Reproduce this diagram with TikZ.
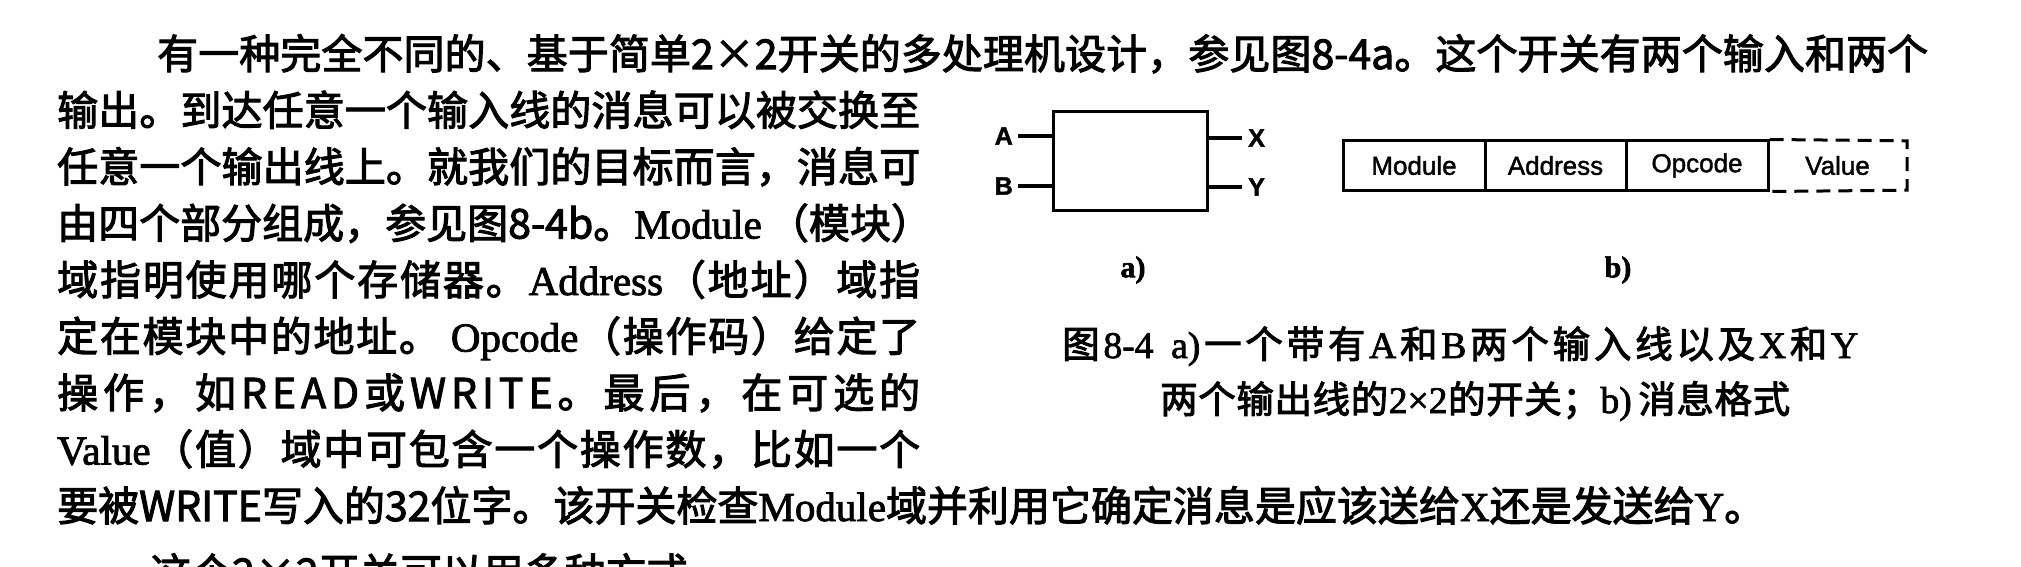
\documentclass[tikz,border=0pt]{standalone}
\usepackage{fontspec}
\setmainfont{Noto Sans CJK SC}[FakeBold=2.5]
\newfontfamily\lser{Liberation Serif}[FakeBold=2]
\newfontfamily\lsans{Liberation Sans}[FakeBold=1.5]
\newcommand\ser[1]{{\lser #1}}
\ExplSyntaxOn
\NewDocumentCommand\spreadline{mm}{\hbox to #1{\tl_map_inline:nn{#2}{##1\hfil}\unskip}}
\ExplSyntaxOff
\tikzset{
  body/.style={anchor=base west, inner sep=0pt, font=\fontsize{41}{41}\selectfont},
  capline/.style={anchor=base west, inner sep=0pt, font=\fontsize{37.5}{37.5}\selectfont},
  wire/.style={line width=3.5pt},
  swbox/.style={draw, line width=3pt, minimum width=154pt, minimum height=98pt, inner sep=0pt},
  pin/.style={inner sep=0pt, font=\lsans\bfseries\fontsize{25}{25}\selectfont},
  field/.style={minimum height=49pt, inner sep=0pt, font=\lsans\fontsize{26}{26}\selectfont},
  solidfield/.style={field, draw, line width=3pt},
  dashfield/.style={line width=3pt, dash pattern=on 14pt off 8pt},
  sublabel/.style={inner sep=0pt, font=\lser\bfseries\fontsize{30}{30}\selectfont},
}
\begin{document}
\begin{tikzpicture}[x=1pt,y=-1pt]
\fill[white] (0,0) rectangle (2021,567);
\useasboundingbox (0,0) rectangle (2021,567);
\begin{scope}
\clip (0,0) rectangle (2021,567);
% body text
\node[body] (l1) at (157,69) {\spreadline{1771pt}{有一种完全不同的、基于简单{2×2}开关的多处理机设计，参见图{8-4a}。这个开关有两个输入和两个}};
\node[body] (l2) at (57,125.5) {\spreadline{863pt}{输出。到达任意一个输入线的消息可以被交换至}};
\node[body] (l3) at (57,182) {\spreadline{863pt}{任意一个输出线上。就我们的目标而言，消息可}};
\node[body] (l4) at (57,238.5) {\spreadline{863pt}{由四个部分组成，参见图{8-4b}。{\ser{Module}\ }（模块）}};
\node[body] (l5) at (57,295) {\spreadline{863pt}{域指明使用哪个存储器。{\ser{Address}}（地址）域指}};
\node[body] (l6) at (57,351.5) {\spreadline{863pt}{定在模块中的地址。{\ \ser{Opcode}}（操作码）给定了}};
\node[body] (l7) at (57,408) {\spreadline{863pt}{操作，如READ或WRITE。最后，在可选的}};
\node[body] (l8) at (57,464.5) {\spreadline{863pt}{{\ser{Value}}（值）域中可包含一个操作数，比如一个}};
\node[body] (l9) at (57,521) {\spreadline{1703pt}{要被{WRITE}写入的{32}位字。该开关检查{\ser{Module}}域并利用它确定消息是应该送给{\ser{X}}还是发送给{\ser{Y}}。}};
\node[body] (l10) at (150,588) {这个2×2开关可以用多种方式};
\end{scope}
% caption
\node[capline] (c1) at (1062,358) {\spreadline{796pt}{图{\ser{8-4}\hspace{14pt}}{\ser{a)}}一个带有{\ser{A}}和{\ser{B}}两个输入线以及{\ser{X}}和{\ser{Y}}}};
\node[capline] (c2) at (1160,413) {\spreadline{630pt}{两个输出线的{\ser{2×2}}的开关；{\ser{b)}\hspace{6pt}}消息格式}};
% switch
\node[swbox] (sw) at (1130,161) {};
\node[pin, anchor=east] (A) at (1013,136) {A};
\node[pin, anchor=east] (B) at (1013,186) {B};
\node[pin, anchor=west] (X) at (1248,138) {X};
\node[pin, anchor=west] (Y) at (1248,187) {Y};
\draw[wire] ([xshift=5pt]A.east) -- (A.east -| sw.west);
\draw[wire] ([xshift=5pt]B.east) -- (B.east -| sw.west);
\draw[wire] (X.west -| sw.east) -- ([xshift=-6pt]X.west);
\draw[wire] (Y.west -| sw.east) -- ([xshift=-6pt]Y.west);
\node[sublabel] (la) at (1133,270) {a)};
% message format
\node[solidfield, minimum width=142pt] (mod) at (1414,165.5) {Module};
\node[solidfield, minimum width=141pt] (adr) at (1555.5,165.5) {Address};
\node[solidfield, minimum width=142pt] (opc) at (1697,165.5) {Opcode};
\node[field, minimum width=139pt] (val) at (1837.5,165.5) {Value};
\draw[dashfield] (opc.north east) -- (val.north east) -- (val.south east) -- (opc.south east);
\node[sublabel] (lb) at (1618,270) {b)};
\end{tikzpicture}
\end{document}
